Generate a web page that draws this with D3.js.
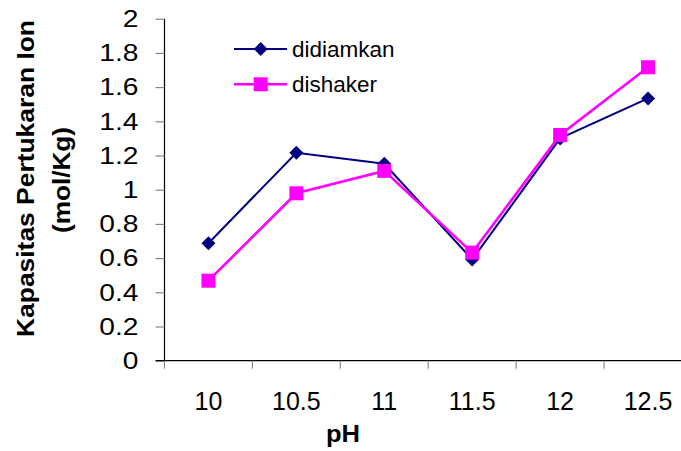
<!DOCTYPE html>
<html>
<head>
<meta charset="utf-8">
<script src="https://cdnjs.cloudflare.com/ajax/libs/d3/7.8.5/d3.min.js"></script>
<style>
  html, body { margin: 0; padding: 0; background: #fff; }
  svg { display: block; }
  text { font-family: "Liberation Sans", Arial, sans-serif; fill: #000; }
</style>
</head>
<body>
<svg id="chart" width="681" height="451"></svg>
<script>
const categories = ["10", "10.5", "11", "11.5", "12", "12.5"];
const didiamkan = [0.687, 1.216, 1.152, 0.592, 1.30, 1.534];
const dishaker = [0.468, 0.979, 1.11, 0.632, 1.32, 1.716];
const yTicks = [0, 0.2, 0.4, 0.6, 0.8, 1, 1.2, 1.4, 1.6, 1.8, 2];
const seriesNames = ["didiamkan", "dishaker"];
const seriesColors = ["#000080", "#FF00FF"];

const svg = d3.select("#chart");
const W = 681, H = 451;
const plot = { left: 164.5, top: 18.7, bottom: 360.7, right: 692 };

const x = d3.scaleBand().domain(categories).range([plot.left, plot.right]);
const y = d3.scaleLinear().domain([0, 2]).range([plot.bottom, plot.top]);

// Y axis
const yAxis = d3.axisLeft(y).tickValues(yTicks).tickSize(9).tickPadding(17)
  .tickFormat(d => String(d));
const gy = svg.append("g").attr("transform", `translate(${plot.left},0)`).call(yAxis);
gy.select(".domain").attr("stroke", "#000").attr("stroke-width", 1.2).attr("d", `M0,${plot.top}V${plot.bottom}`);
gy.selectAll(".tick line").attr("stroke", "#888").attr("stroke-width", 1.2);
gy.selectAll(".tick text").style("font-size", "24.5px").attr("fill", "#000")
  .attr("font-family", "Liberation Sans, Arial, sans-serif")
  .attr("x", 0)
  .attr("transform", "translate(-26,0) scale(1.15,1)");

// X axis
const xAxis = d3.axisBottom(x).tickSize(0).tickPadding(32);
const gx = svg.append("g").attr("transform", `translate(0,${plot.bottom})`).call(xAxis);
gx.select(".domain").attr("stroke", "#000").attr("stroke-width", 1.2).attr("d", `M${plot.left - 9},0H${W}`);
gx.selectAll(".tick text").style("font-size", "25px").attr("fill", "#000")
  .attr("font-family", "Liberation Sans, Arial, sans-serif");
// boundary tick marks
const bounds = categories.map(c => x(c)).concat([x(categories[categories.length - 1]) + x.bandwidth()]);
gx.selectAll(".btick").data(bounds).enter().append("line")
  .attr("class", "btick")
  .attr("x1", d => d).attr("x2", d => d)
  .attr("y1", 0).attr("y2", 8)
  .attr("stroke", "#888").attr("stroke-width", 1.2);

// Axis titles
svg.append("text")
  .attr("transform", `translate(34,178.5) rotate(-90)`)
  .attr("text-anchor", "middle")
  .attr("textLength", 317).attr("lengthAdjust", "spacingAndGlyphs")
  .style("font-size", "23px").style("font-weight", "bold")
  .text("Kapasitas Pertukaran Ion");
svg.append("text")
  .attr("transform", `translate(70,180) rotate(-90)`)
  .attr("text-anchor", "middle")
  .attr("textLength", 106).attr("lengthAdjust", "spacingAndGlyphs")
  .style("font-size", "23px").style("font-weight", "bold")
  .text("(mol/Kg)");
svg.append("text")
  .attr("x", 343).attr("y", 442)
  .attr("text-anchor", "middle")
  .attr("textLength", 34).attr("lengthAdjust", "spacingAndGlyphs")
  .style("font-size", "24px").style("font-weight", "bold")
  .text("pH");

// markers
function diamondPath(r) { return `M0,${-r}L${r},0L0,${r}L${-r},0Z`; }
function squarePath(r) { return `M${-r},${-r}H${r}V${r}H${-r}Z`; }

const series = [
  { name: seriesNames[0], values: didiamkan, color: seriesColors[0], width: 2, marker: diamondPath(7) },
  { name: seriesNames[1], values: dishaker, color: seriesColors[1], width: 2.6, marker: squarePath(7) }
];

const line = d3.line()
  .x((d, i) => x(categories[i]) + x.bandwidth() / 2)
  .y(d => y(d));

series.forEach(s => {
  const g = svg.append("g");
  g.append("path").datum(s.values)
    .attr("d", line).attr("fill", "none")
    .attr("stroke", s.color).attr("stroke-width", s.width);
  g.selectAll("path.m").data(s.values).enter().append("path")
    .attr("class", "m")
    .attr("d", s.marker)
    .attr("transform", (d, i) => `translate(${x(categories[i]) + x.bandwidth() / 2},${y(d)})`)
    .attr("fill", s.color);
});

// Legend
const legY = [49, 84.3];
series.forEach((s, i) => {
  const g = svg.append("g").attr("transform", `translate(0,${legY[i]})`);
  g.append("line").attr("x1", 234).attr("x2", 287).attr("y1", 0).attr("y2", 0)
    .attr("stroke", s.color).attr("stroke-width", s.width);
  g.append("path").attr("d", s.marker).attr("transform", "translate(260.7,0)").attr("fill", s.color);
  g.append("text").attr("x", 292).attr("y", 8).style("font-size", "22.5px").text(s.name);
});
</script>
</body>
</html>
